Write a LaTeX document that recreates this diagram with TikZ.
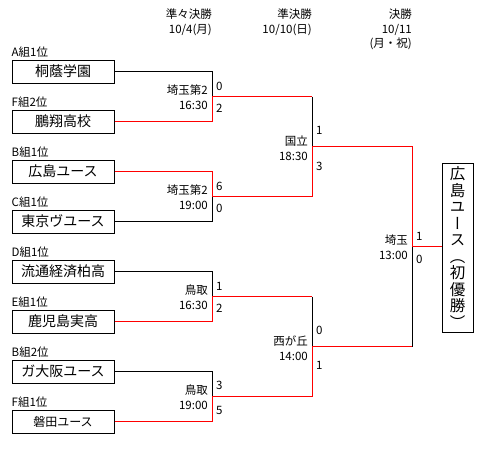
\documentclass[tikz,border=0pt]{standalone}
\usepackage{fontspec}
\setmainfont{Noto Sans CJK JP}
\newfontfamily\tatefont[RawFeature=+vert]{Noto Sans CJK JP}
\usetikzlibrary{positioning,calc}

\begin{document}
\begin{tikzpicture}[x=1pt,y=-1pt]
\tikzset{
  team/.style={rectangle, draw=black, line width=1pt, minimum width=102pt,
    minimum height=23pt, inner sep=0pt, font=\fontsize{14}{16}\selectfont},
  group/.style={font=\fontsize{11.5}{13}\selectfont, inner sep=0pt},
  venue/.style={font=\fontsize{11.5}{15}\selectfont, align=right, anchor=east, inner sep=0pt},
  score/.style={font=\fontsize{11.5}{13}\selectfont, anchor=west, inner sep=0pt},
  head/.style={font=\fontsize{11.5}{14.5}\selectfont, align=right, anchor=north east, inner sep=0pt},
  champ/.style={rectangle, draw=black, line width=1pt, minimum width=31pt,
    minimum height=169pt, inner sep=0pt, align=center, font=\tatefont\fontsize{15.5}{16.5}\selectfont},
  lose/.style={draw=black, line width=1pt},
  win/.style={draw=red, line width=1pt}
}
\useasboundingbox (0,0) rectangle (500,451);

% round headers
\node[head] (h1) at (212,9) {準々決勝\\10/4(月)};
\node[head] (h2) at (312,9) {準決勝\\10/10(日)};
\node[head] (h3) at (412,9) {決勝\\10/11\\(月・祝)};

% teams
\node[team] (t1) at (63,71.5) {桐蔭学園};
\node[team] (t2) at (63,121.5) {鵬翔高校};
\node[team] (t3) at (63,171.5) {広島ユース};
\node[team] (t4) at (63,221.5) {東京ヴユース};
\node[team] (t5) at (63,271.5) {流通経済柏高};
\node[team] (t6) at (63,321.5) {鹿児島実高};
\node[team] (t7) at (63,371.5) {ガ大阪ユース};
\node[team, font=\fontsize{12}{14}\selectfont] (t8) at (63,421.5) {磐田ユース};

\node[group, above right=1.5pt and 0pt of t1.north west] (g1) {A組1位};
\node[group, above right=1.5pt and 0pt of t2.north west] (g2) {F組2位};
\node[group, above right=1.5pt and 0pt of t3.north west] (g3) {B組1位};
\node[group, above right=1.5pt and 0pt of t4.north west] (g4) {C組1位};
\node[group, above right=1.5pt and 0pt of t5.north west] (g5) {D組1位};
\node[group, above right=1.5pt and 0pt of t6.north west] (g6) {E組1位};
\node[group, above right=1.5pt and 0pt of t7.north west] (g7) {B組2位};
\node[group, above right=1.5pt and 0pt of t8.north west] (g8) {F組1位};

% junctions
\coordinate (q1) at (212,96.5);
\coordinate (q2) at (212,196.5);
\coordinate (q3) at (212,296.5);
\coordinate (q4) at (212,396.5);
\coordinate (s1) at (312,146.5);
\coordinate (s2) at (312,346.5);
\coordinate (f) at (412,246.5);

\node[champ] (win) at (457.5,247.5) {広\\島\\ユ\\ー\\ス\\（\\初\\優\\勝\\）};

% losers
\draw[lose] (t1.east) -| (q1);
\draw[lose] (t4.east) -| (q2);
\draw[lose] (t5.east) -| (q3);
\draw[lose] (t7.east) -| (q4);
\draw[lose] (q1 -| s1) -- (s1);
\draw[lose] (q3 -| s2) -- (s2);
\draw[lose] (s2 -| f) -- (f);

% winners
\draw[win] (t2.east) -| (q1) -- (q1 -| s1);
\draw[win] (t3.east) -| (q2) -| (s1);
\draw[win] (t6.east) -| (q3) -- (q3 -| s2);
\draw[win] (t8.east) -| (q4) -| (s2);
\draw[win] (s1) -| (f);
\draw[win] (s2) -- (s2 -| f);
\draw[win] (f) -- (f -| win.west);

% venues
\node[venue] (v1) at ($(q1)+(-4,1)$) {埼玉第2\\16:30};
\node[venue] (v2) at ($(q2)+(-4,1)$) {埼玉第2\\19:00};
\node[venue] (v3) at ($(q3)+(-4,1)$) {鳥取\\16:30};
\node[venue] (v4) at ($(q4)+(-4,1)$) {鳥取\\19:00};
\node[venue] (v5) at ($(s1)+(-4,1.5)$) {国立\\18:30};
\node[venue] (v6) at ($(s2)+(-4,1.5)$) {西が丘\\14:00};
\node[venue] (v7) at ($(f)+(-4,1)$) {埼玉\\13:00};

% scores
\node[score] (a1) at ($(q1)+(4,-10)$) {0};
\node[score] (b1) at ($(q1)+(4,12)$) {2};
\node[score] (a2) at ($(q2)+(4,-10)$) {6};
\node[score] (b2) at ($(q2)+(4,12)$) {0};
\node[score] (a3) at ($(q3)+(4,-10)$) {1};
\node[score] (b3) at ($(q3)+(4,12)$) {2};
\node[score] (a4) at ($(q4)+(4,-11)$) {3};
\node[score] (b4) at ($(q4)+(4,14)$) {5};
\node[score] (a5) at ($(s1)+(4,-16)$) {1};
\node[score] (b5) at ($(s1)+(4,20)$) {3};
\node[score] (a6) at ($(s2)+(4,-16)$) {0};
\node[score] (b6) at ($(s2)+(4,19)$) {1};
\node[score] (a7) at ($(f)+(4,-10.5)$) {1};
\node[score] (b7) at ($(f)+(4,12.5)$) {0};
\end{tikzpicture}
\end{document}
